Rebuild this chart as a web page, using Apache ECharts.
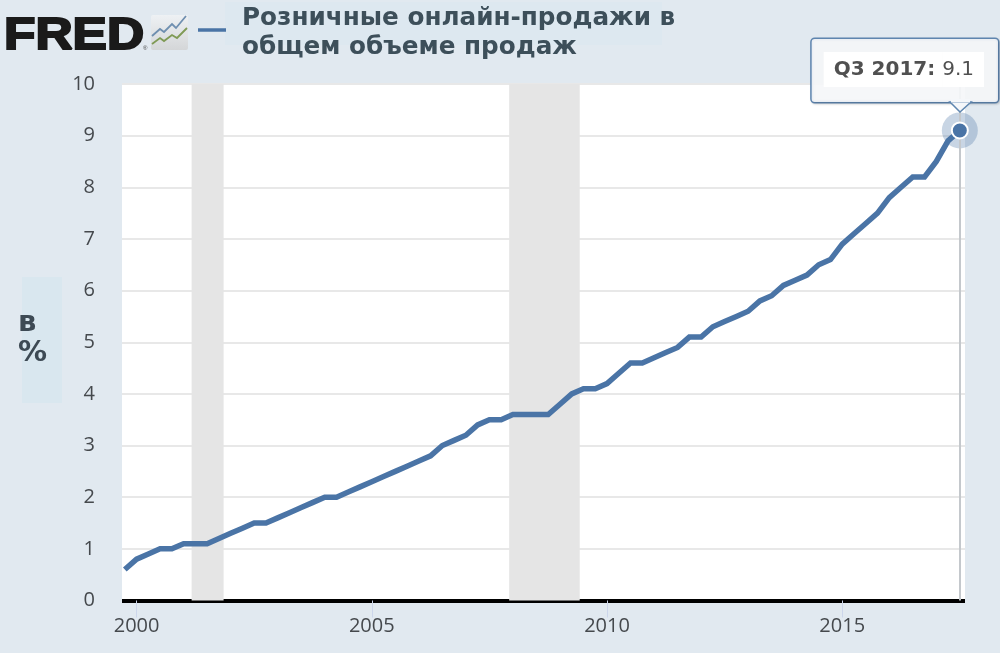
<!DOCTYPE html>
<html>
<head>
<meta charset="utf-8">
<style>html,body{margin:0;padding:0;background:#e1e9f0}#c{width:1000px;height:653px}</style>
<script src="https://cdn.jsdelivr.net/npm/echarts@6/dist/echarts.min.js"></script>
</head>
<body>
<div id="c"></div>
<script>
const titleText = 'Розничные онлайн-продажи в\nобщем объеме продаж';
const yAxisName = 'в\n%';
const xTickYears = [2000,2005,2010,2015];
const quarters = [
 1999.75,
 2000,2000.25,2000.5,2000.75,
 2001,2001.25,2001.5,2001.75,
 2002,2002.25,2002.5,2002.75,
 2003,2003.25,2003.5,2003.75,
 2004,2004.25,2004.5,2004.75,
 2005,2005.25,2005.5,2005.75,
 2006,2006.25,2006.5,2006.75,
 2007,2007.25,2007.5,2007.75,
 2008,2008.25,2008.5,2008.75,
 2009,2009.25,2009.5,2009.75,
 2010,2010.25,2010.5,2010.75,
 2011,2011.25,2011.5,2011.75,
 2012,2012.25,2012.5,2012.75,
 2013,2013.25,2013.5,2013.75,
 2014,2014.25,2014.5,2014.75,
 2015,2015.25,2015.5,2015.75,
 2016,2016.25,2016.5,2016.75,
 2017,2017.25,2017.5];
const ecommerceShare = [
 0.6,
 0.8,0.9,1.0,1.0,
 1.1,1.1,1.1,1.2,
 1.3,1.4,1.5,1.5,
 1.6,1.7,1.8,1.9,
 2.0,2.0,2.1,2.2,
 2.3,2.4,2.5,2.6,
 2.7,2.8,3.0,3.1,
 3.2,3.4,3.5,3.5,
 3.6,3.6,3.6,3.6,
 3.8,4.0,4.1,4.1,
 4.2,4.4,4.6,4.6,
 4.7,4.8,4.9,5.1,
 5.1,5.3,5.4,5.5,
 5.6,5.8,5.9,6.1,
 6.2,6.3,6.5,6.6,
 6.9,7.1,7.3,7.5,
 7.8,8.0,8.2,8.2,
 8.5,8.9,9.1];
const recessions = [[2001.17,2001.85],[2007.92,2009.42]];
const axisStart = 1999.69;
const axisEnd = 2017.61;
const lastLabel = 'Q3 2017:';

const lineColor = '#4a74a6';
const seriesData = quarters.map((q,i)=>[q,ecommerceShare[i]]);
const last = seriesData[seriesData.length-1];
const chart = echarts.init(document.getElementById('c'),null,{renderer:'canvas'});

const tickFont = {fontFamily:'"Open Sans"',fontSize:20,color:'#45494d'};
chart.setOption({
 animation:false,
 backgroundColor:'#e1e9f0',
 title:{
  text:titleText,left:237,top:-1,
  textStyle:{fontFamily:'"DejaVu Sans"',fontWeight:'bold',fontSize:24.7,lineHeight:29,color:'#3d4f5a'}
 },
 grid:{left:122,right:35,top:84,bottom:52.5,backgroundColor:'#ffffff',show:true,borderWidth:0},
 xAxis:{
  type:'value',min:axisStart,max:axisEnd,
  axisLine:{show:true,onZero:false,lineStyle:{color:'#000',width:4,cap:'butt'}},
  axisTick:{show:true,length:17,customValues:xTickYears,lineStyle:{color:'#ccd6eb',width:1}},
  axisLabel:{...tickFont,margin:16,customValues:xTickYears,hideOverlap:false,formatter:v=>String(v)},
  splitLine:{show:false},minorTick:{show:false}
 },
 yAxis:{
  type:'value',min:0,max:10,interval:1,
  axisLine:{show:false},axisTick:{show:false},
  axisLabel:{...tickFont,margin:27,padding:[2,0,0,0]},
  splitLine:{show:true,lineStyle:{color:'#e8e8e8',width:2}}
 },
 series:[
  {
   type:'line',name:'share',data:seriesData,showSymbol:false,symbol:'none',
   lineStyle:{color:lineColor,width:5.5,join:'miter'},
   markArea:{silent:true,itemStyle:{color:'#e5e5e5',opacity:1},
     data:recessions.map(r=>[{xAxis:r[0]},{xAxis:r[1]}])},
   markLine:{silent:true,symbol:'none',label:{show:false},
     lineStyle:{color:'#c4c8cc',width:2,type:'solid'},
     data:[{xAxis:last[0]}]},
   z:3
  },
  {
   type:'scatter',name:'halo',data:[last],symbol:'circle',symbolSize:36,clip:false,silent:true,
   itemStyle:{color:lineColor,opacity:0.3},z:4
  },
  {
   type:'scatter',name:'point',data:[last],symbol:'circle',symbolSize:16,clip:false,silent:true,
   itemStyle:{color:lineColor,borderColor:'#fff',borderWidth:2,opacity:1},z:5,
   label:{
    show:true,position:'inside',align:'center',verticalAlign:'middle',offset:[-55,-60],
    backgroundColor:'rgba(247,249,251,0.92)',borderColor:'#5f86b0',borderWidth:1.5,borderRadius:3,
    padding:[13,14,15,12],
    shadowColor:'rgba(0,0,0,0.15)',shadowBlur:2,shadowOffsetX:1,shadowOffsetY:1,
    formatter:()=>'{a|'+lastLabel+' }{b|'+last[1]+'}',
    rich:{
     a:{fontFamily:'"DejaVu Sans"',fontWeight:'bold',fontSize:20,color:'#505050',backgroundColor:'#fff',
        height:35,lineHeight:35,padding:[0,0,0,10]},
     b:{fontFamily:'"DejaVu Sans"',fontSize:20,color:'#505050',backgroundColor:'#fff',
        height:35,lineHeight:35,padding:[0,10,0,0]}
    }
   }
  }
 ],
 graphic:[
  {type:'rect',silent:true,z:-1,shape:{x:22,y:277,width:40,height:126},style:{fill:'#d9e7ef'}},
  {type:'rect',silent:true,z:-1,shape:{x:225,y:2,width:437,height:43},style:{fill:'#dde8f0'}},
  {type:'text',silent:true,left:18,top:308,
   style:{text:yAxisName,fontFamily:'"DejaVu Sans"',fontWeight:'bold',fontSize:29,lineHeight:30,fill:'#3d4a54'}},
  {type:'text',silent:true,x:4,y:15,scaleX:1.17,scaleY:1.0,
   style:{text:'FRED',fontFamily:'"Liberation Sans"',fontWeight:'bold',fontSize:44,fill:'#1a1a1a',stroke:'#1a1a1a',lineWidth:2}},
  {type:'text',silent:true,x:143,y:45,style:{text:'®',fontFamily:'"Liberation Sans"',fontSize:6,fill:'#444'}},
  {type:'rect',silent:true,shape:{x:151,y:15,width:37,height:35,r:2},
   style:{fill:new echarts.graphic.LinearGradient(0,0,0,1,[{offset:0,color:'#eef1f4'},{offset:1,color:'#d4d6d8'}])}},
  {type:'polyline',silent:true,shape:{points:[[152,36],[160,29],[164,32],[172,24],[176,28],[186,16]]},
   style:{fill:'none',stroke:'#6f8fb0',lineWidth:1.8}},
  {type:'polyline',silent:true,shape:{points:[[152,44],[160,38],[164,41],[172,35],[177,38],[187,28]]},
   style:{fill:'none',stroke:'#7f9a55',lineWidth:1.8}},
  {type:'line',silent:true,shape:{x1:198,y1:30,x2:226,y2:30},style:{stroke:lineColor,lineWidth:3.5}},
  {type:'polygon',silent:true,z:10,shape:{points:[[950,102],[960,112],[971,102]]},
   style:{fill:'#f5f7fa',stroke:'#5f86b0',lineWidth:1.5}},
  {type:'rect',silent:true,z:11,shape:{x:951,y:99,width:19,height:3.5},style:{fill:'#f5f7fa'}}
 ]
});
</script>
</body>
</html>
